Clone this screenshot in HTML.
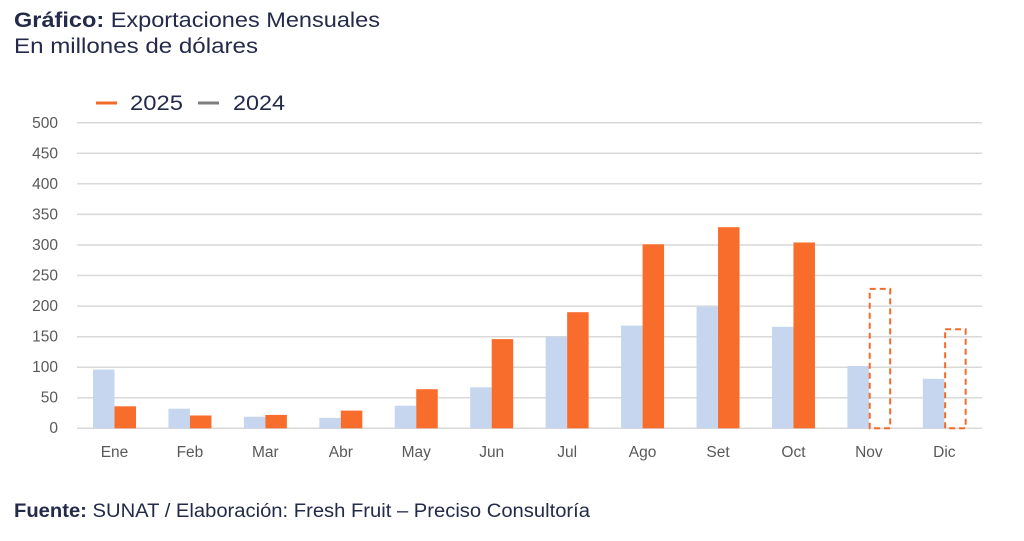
<!DOCTYPE html>
<html><head><meta charset="utf-8"><style>
body{margin:0;background:#fff;width:1024px;height:536px;overflow:hidden;font-family:"Liberation Sans",sans-serif;}
</style></head><body>
<svg width="1024" height="536" xmlns="http://www.w3.org/2000/svg" font-family="Liberation Sans, sans-serif">
<text x="14" y="27" font-size="21" fill="#232a4a" textLength="366" lengthAdjust="spacingAndGlyphs"><tspan font-weight="bold">Gráfico:</tspan> Exportaciones Mensuales</text>
<text x="14" y="53" font-size="21" fill="#232a4a" textLength="244" lengthAdjust="spacingAndGlyphs">En millones de dólares</text>
<line x1="96" y1="103" x2="117" y2="103" stroke="#f26b2a" stroke-width="3"/>
<text x="130" y="110" font-size="21" fill="#232a4a" textLength="53" lengthAdjust="spacingAndGlyphs">2025</text>
<line x1="198" y1="103" x2="219" y2="103" stroke="#7f7f7f" stroke-width="3"/>
<text x="233" y="110" font-size="21" fill="#232a4a" textLength="52" lengthAdjust="spacingAndGlyphs">2024</text>
<g stroke="#d9d9d9" stroke-width="1.5">
<line x1="77" x2="982" y1="122.7" y2="122.7"/><line x1="77" x2="982" y1="153.3" y2="153.3"/>
<line x1="77" x2="982" y1="183.8" y2="183.8"/><line x1="77" x2="982" y1="214.4" y2="214.4"/>
<line x1="77" x2="982" y1="245" y2="245"/><line x1="77" x2="982" y1="275.5" y2="275.5"/>
<line x1="77" x2="982" y1="306.1" y2="306.1"/><line x1="77" x2="982" y1="336.7" y2="336.7"/>
<line x1="77" x2="982" y1="367.2" y2="367.2"/><line x1="77" x2="982" y1="397.8" y2="397.8"/>
<line x1="77" x2="982" y1="428.3" y2="428.3"/>
</g>
<g font-size="15.5" fill="#595959" text-anchor="end">
<text x="58" y="128">500</text><text x="58" y="158.5">450</text><text x="58" y="189">400</text>
<text x="58" y="219.5">350</text><text x="58" y="250">300</text><text x="58" y="280.5">250</text>
<text x="58" y="311">200</text><text x="58" y="341.5">150</text><text x="58" y="372">100</text>
<text x="58" y="402.5">50</text><text x="58" y="433">0</text>
</g>
<g fill="#c5d6ee">
<rect x="93" y="369.6" width="21.5" height="58.7"/>
<rect x="168.44" y="408.7" width="21.5" height="19.6"/>
<rect x="243.88" y="416.7" width="21.5" height="11.6"/>
<rect x="319.32" y="417.9" width="21.5" height="10.4"/>
<rect x="394.76" y="405.7" width="21.5" height="22.6"/>
<rect x="470.2" y="387.3" width="21.5" height="41"/>
<rect x="545.64" y="336.6" width="21.5" height="91.7"/>
<rect x="621.08" y="325.6" width="21.5" height="102.7"/>
<rect x="696.52" y="306.7" width="21.5" height="121.6"/>
<rect x="771.96" y="326.8" width="21.5" height="101.5"/>
<rect x="847.4" y="366" width="21.5" height="62.3"/>
<rect x="922.84" y="378.8" width="21.5" height="49.5"/>
</g>
<g fill="#f96d2c">
<rect x="114.5" y="406.3" width="21.5" height="22"/>
<rect x="189.94" y="415.5" width="21.5" height="12.8"/>
<rect x="265.38" y="414.9" width="21.5" height="13.4"/>
<rect x="340.82" y="410.6" width="21.5" height="17.7"/>
<rect x="416.26" y="389.2" width="21.5" height="39.1"/>
<rect x="491.7" y="339.1" width="21.5" height="89.2"/>
<rect x="567.14" y="312.2" width="21.5" height="116.1"/>
<rect x="642.58" y="244.3" width="21.5" height="184"/>
<rect x="718.02" y="227.2" width="21.5" height="201.1"/>
<rect x="793.46" y="242.5" width="21.5" height="185.8"/>
</g>
<g fill="none" stroke="#f26b2a" stroke-width="2" stroke-dasharray="6,4">
<rect x="869.7" y="288.9" width="20.5" height="139.4"/>
<rect x="945.14" y="329.3" width="20.5" height="99"/>
</g>
<g font-size="15.5" fill="#595959" text-anchor="middle">
<text x="114.5" y="457">Ene</text><text x="189.94" y="457">Feb</text><text x="265.38" y="457">Mar</text>
<text x="340.82" y="457">Abr</text><text x="416.26" y="457">May</text><text x="491.7" y="457">Jun</text>
<text x="567.14" y="457">Jul</text><text x="642.58" y="457">Ago</text><text x="718.02" y="457">Set</text>
<text x="793.46" y="457">Oct</text><text x="868.9" y="457">Nov</text><text x="944.34" y="457">Dic</text>
</g>
<text x="14" y="517" font-size="19" fill="#232a4a" textLength="576" lengthAdjust="spacingAndGlyphs"><tspan font-weight="bold">Fuente:</tspan> SUNAT / Elaboración: Fresh Fruit – Preciso Consultoría</text>
</svg>
</body></html>
